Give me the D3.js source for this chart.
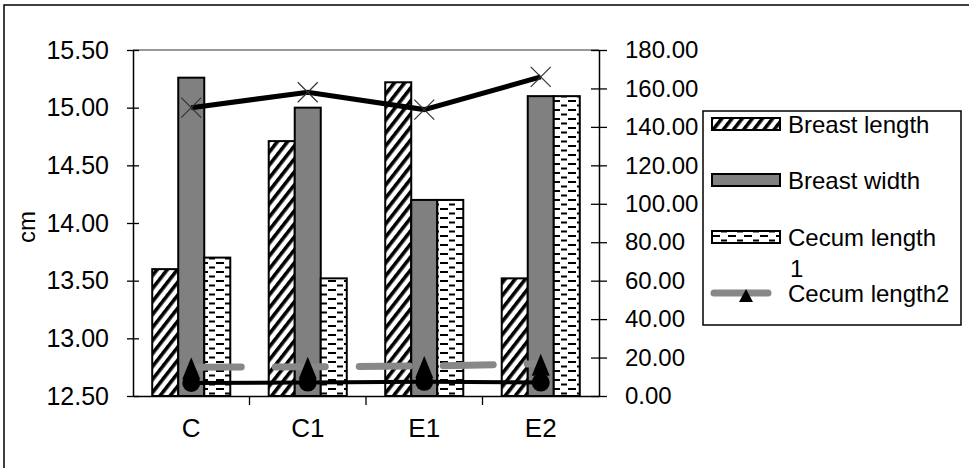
<!DOCTYPE html>
<html>
<head>
<meta charset="utf-8">
<script src="https://cdn.jsdelivr.net/npm/d3@7/dist/d3.min.js"></script>
<style>
  html, body { margin: 0; padding: 0; background: #fff; }
  svg { display: block; font-family: "Liberation Sans", Arial, sans-serif; }
</style>
</head>
<body>
<svg id="chart" width="969" height="468"></svg>
<script>
// ---- data ----
const categories = ["C", "C1", "E1", "E2"];
const breastLength = [13.60, 14.71, 15.22, 13.52];
const breastWidth = [15.26, 15.00, 14.20, 15.10];
const cecumLength1 = [13.70, 13.52, 14.20, 15.10];
const crossLine = [150, 158, 149, 166];      // right axis, X markers
const cecumLength2 = [15.0, 15.2, 15.6, 16.8]; // right axis, triangles
const circleLine = [6.8, 7.0, 7.4, 7.0];     // right axis, circles
const leftTicks = [12.5, 13.0, 13.5, 14.0, 14.5, 15.0, 15.5];
const rightTicks = [0, 20, 40, 60, 80, 100, 120, 140, 160, 180];
const barSeries = ["Breast length", "Breast width", "Cecum length 1"];

const svg = d3.select("#chart");
const L = 133, R = 599, T = 50, B = 396;

// frame
svg.append("path").attr("d", "M4,468V5H969").attr("fill", "none").attr("stroke", "#000").attr("stroke-width", 1.5);

// patterns
const defs = svg.append("defs");
const hatch = defs.append("pattern").attr("id", "hatch").attr("patternUnits", "userSpaceOnUse")
  .attr("width", 8).attr("height", 8).attr("patternTransform", "rotate(38)");
hatch.append("rect").attr("width", 8).attr("height", 8).attr("fill", "#fff");
hatch.append("rect").attr("width", 3.6).attr("height", 8).attr("fill", "#000");
const dash = defs.append("pattern").attr("id", "dash").attr("patternUnits", "userSpaceOnUse")
  .attr("width", 16).attr("height", 9).attr("x", 152).attr("y", 0);
dash.append("rect").attr("width", 16).attr("height", 9).attr("fill", "#fff");
dash.append("rect").attr("x", 0).attr("y", 1).attr("width", 8).attr("height", 2).attr("fill", "#000");
dash.append("rect").attr("x", 9).attr("y", 5.5).attr("width", 6).attr("height", 2).attr("fill", "#000");
const fills = ["url(#hatch)", "#808080", "url(#dash)"];

// scales
const x0 = d3.scaleBand().domain(categories).range([L, R]).paddingInner(0.33).paddingOuter(0.165);
const x1 = d3.scaleBand().domain(barSeries).range([0, x0.bandwidth()]);
const yL = d3.scaleLinear().domain([12.5, 15.5]).range([B, T]);
const yR = d3.scaleLinear().domain([0, 180]).range([B, T]);
const cx = c => x0(c) + x0.bandwidth() / 2;

// top gridline
svg.append("line").attr("x1", L).attr("x2", R).attr("y1", yL(15.5)).attr("y2", yL(15.5))
  .attr("stroke", "#999").attr("stroke-width", 2);

// bars
const barData = [breastLength, breastWidth, cecumLength1];
barSeries.forEach((s, si) => {
  svg.append("g").selectAll("rect").data(categories).join("rect")
    .attr("x", c => x0(c) + x1(s))
    .attr("width", x1.bandwidth())
    .attr("y", (c, i) => yL(barData[si][i]))
    .attr("height", (c, i) => B - yL(barData[si][i]))
    .attr("fill", fills[si]).attr("stroke", "#000").attr("stroke-width", 2);
});

// axes
const axL = svg.append("g").attr("transform", `translate(${L},0)`)
  .call(d3.axisLeft(yL).tickValues(leftTicks).tickFormat(d3.format(".2f")).tickSizeInner(6).tickSizeOuter(0).tickPadding(18));
axL.selectAll(".tick line").attr("x1", 6);
const axR = svg.append("g").attr("transform", `translate(${R},0)`)
  .call(d3.axisRight(yR).tickValues(rightTicks).tickFormat(d3.format(".2f")).tickSizeInner(8).tickSizeOuter(0).tickPadding(18));
axR.selectAll(".tick line").attr("x1", -8);
const axB = svg.append("g").attr("transform", `translate(0,${B})`)
  .call(d3.axisBottom(x0).tickSize(0).tickPadding(23));
[axL, axR, axB].forEach(a => {
  a.selectAll("path.domain").attr("stroke", "#000").attr("stroke-width", 1.5);
  a.selectAll(".tick line").attr("stroke", "#000").attr("stroke-width", 1.3);
  a.selectAll("text").attr("fill", "#000").attr("font-family", "'Liberation Sans', Arial, sans-serif");
});
axL.selectAll("text").attr("font-size", 25);
axR.selectAll("text").attr("font-size", 24);
axB.selectAll("text").attr("font-size", 26);
// category boundary ticks
const step = x0.step();
svg.append("g").selectAll("line").data(categories.slice(0, -1)).join("line")
  .attr("x1", c => cx(c) + step / 2).attr("x2", c => cx(c) + step / 2)
  .attr("y1", B).attr("y2", B + 9).attr("stroke", "#000").attr("stroke-width", 1.3);

// y label
svg.append("text").attr("transform", "translate(35,227) rotate(-90)").attr("text-anchor", "middle")
  .attr("font-size", 24).text("cm");

// line with X markers
const lineR = d3.line().x((d, i) => cx(categories[i])).y(d => yR(d));
svg.append("path").attr("d", lineR(crossLine)).attr("fill", "none").attr("stroke", "#000").attr("stroke-width", 5);
svg.append("g").selectAll("path").data(crossLine).join("path")
  .attr("transform", (d, i) => `translate(${cx(categories[i])},${yR(d)})`)
  .attr("d", "M-10,-10L10,10M-10,10L10,-10").attr("stroke", "#333").attr("stroke-width", 1.2);

// Cecum length2 gray dashed line
svg.append("path").attr("d", lineR(cecumLength2)).attr("fill", "none").attr("stroke", "#888")
  .attr("stroke-width", 7).attr("stroke-linecap", "round").attr("stroke-dasharray", "50,34");

// circle line
svg.append("path").attr("d", lineR(circleLine)).attr("fill", "none").attr("stroke", "#000").attr("stroke-width", 4);
svg.append("g").selectAll("circle").data(circleLine).join("circle")
  .attr("cx", (d, i) => cx(categories[i])).attr("cy", d => yR(d)).attr("r", 9).attr("fill", "#000");

// triangles
svg.append("g").selectAll("path").data(cecumLength2).join("path")
  .attr("transform", (d, i) => `translate(${cx(categories[i])},${yR(d) + 3})`)
  .attr("d", "M0,-13L9,9L-9,9Z").attr("fill", "#000");

// legend
const lg = svg.append("g");
lg.append("rect").attr("x", 703).attr("y", 111).attr("width", 258).attr("height", 214)
  .attr("fill", "#fff").attr("stroke", "#000").attr("stroke-width", 1.5);
const rows = [124, 180, 237];
barSeries.forEach((s, i) => {
  lg.append("rect").attr("x", 712).attr("y", rows[i] - 6).attr("width", 68).attr("height", 12)
    .attr("fill", fills[i]).attr("stroke", "#000").attr("stroke-width", 2);
});
lg.append("text").attr("x", 788).attr("y", 124 + 8.5).attr("font-size", 24).text("Breast length");
lg.append("text").attr("x", 788).attr("y", 180 + 8.5).attr("font-size", 24).text("Breast width");
lg.append("text").attr("x", 788).attr("y", 237 + 8.5).attr("font-size", 24).text("Cecum length");
lg.append("text").attr("x", 790).attr("y", 268 + 8.5).attr("font-size", 24).text("1");
lg.append("line").attr("x1", 714).attr("x2", 768).attr("y1", 293).attr("y2", 293)
  .attr("stroke", "#888").attr("stroke-width", 7).attr("stroke-linecap", "round");
lg.append("path").attr("transform", "translate(746,296)").attr("d", "M0,-7L7,6L-7,6Z").attr("fill", "#000");
lg.append("text").attr("x", 788).attr("y", 293 + 8.5).attr("font-size", 24).text("Cecum length2");
</script>
</body>
</html>
